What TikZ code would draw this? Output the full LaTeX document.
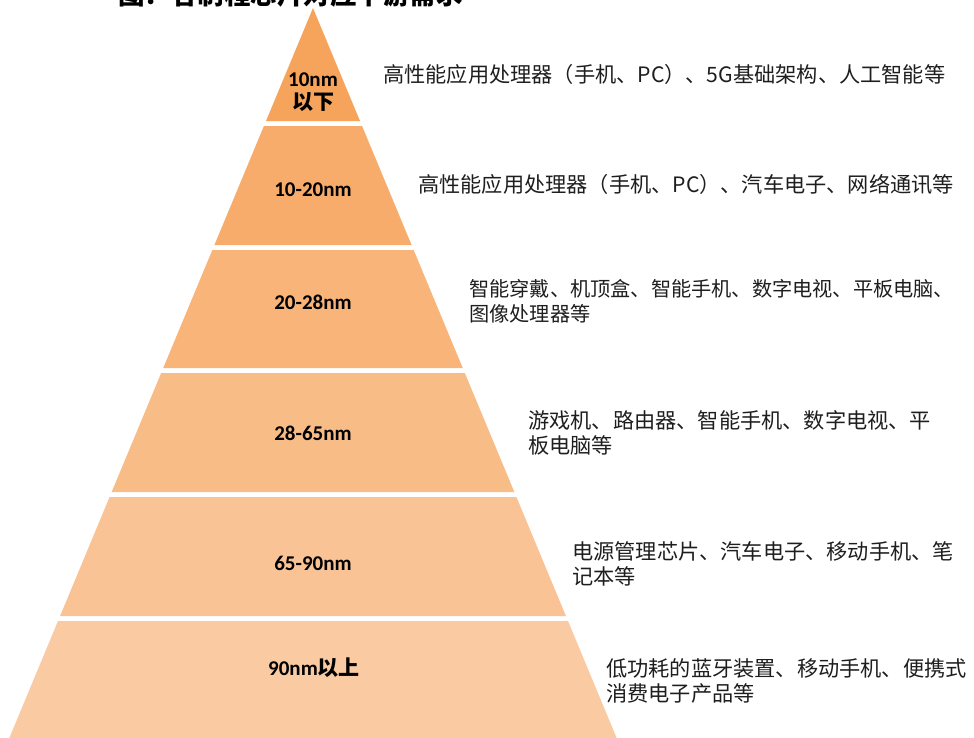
\documentclass[tikz,border=0pt]{standalone}
\usepackage{fontspec}
\newfontfamily\cjk{Noto Sans CJK SC}
\newfontfamily\labfont{Carlito}
\definecolor{bandA}{RGB}{246,163,92}
\definecolor{bandB}{RGB}{247,172,107}
\definecolor{bandC}{RGB}{248,180,121}
\definecolor{bandD}{RGB}{248,188,135}
\definecolor{bandE}{RGB}{249,195,149}
\definecolor{bandF}{RGB}{250,202,163}
\definecolor{desctext}{RGB}{30,30,30}
\tikzset{
  lvl/.style={font=\fontsize{21}{23}\selectfont\labfont\bfseries, text=black, align=center, inner sep=0pt},
  desc/.style={font=\fontsize{21.2}{25}\selectfont\cjk, text=desctext, anchor=west, align=left, inner sep=0pt},
  descnarrow/.style={desc, font=\fontsize{20.2}{25}\selectfont\cjk},
  ttl/.style={font=\fontsize{26.5}{28}\selectfont\cjk\bfseries, text=black, anchor=base west, inner sep=0pt}
}
\newcommand{\pyrband}[3]{%
  \fill[#3] ({313-0.416*(#1-8)},#1) -- ({313+0.416*(#1-8)},#1) --
    ({313+0.416*(#2-8)},#2) -- ({313-0.416*(#2-8)},#2) -- cycle;}
\begin{document}
\begin{tikzpicture}[x=1pt,y=-1pt]
\useasboundingbox (0,0) rectangle (974,737);
\clip (0,0) rectangle (974,737);
% title (cut off at the top edge, as in the reference)
\node[ttl] (title) at (118,4) {图：各制程芯片对应下游需求};
% pyramid
\fill[bandA] (313,8) -- (360,121) -- (266,121) -- cycle;
\pyrband{126}{245}{bandB}
\pyrband{250}{368}{bandC}
\pyrband{373}{492}{bandD}
\pyrband{497}{616}{bandE}
\pyrband{621}{740}{bandF}
% level labels
\node[lvl] (l1) at (313,92) {10nm\\{\cjk\bfseries 以下}};
\node[lvl] (l2) at (313,190) {10-20nm};
\node[lvl] (l3) at (313,302) {20-28nm};
\node[lvl] (l4) at (313,433) {28-65nm};
\node[lvl] (l5) at (313,563) {65-90nm};
\node[lvl] (l6) at (314,668) {90nm{\cjk\bfseries 以上}};
% descriptions
\node[desc] (d1) at (383,74) {高性能应用处理器（手机、PC）、5G基础架构、人工智能等};
\node[desc] (d2) at (418,184) {高性能应用处理器（手机、PC）、汽车电子、网络通讯等};
\node[descnarrow] (d3) at (469,301.5) {智能穿戴、机顶盒、智能手机、数字电视、平板电脑、\\图像处理器等};
\node[desc] (d4) at (528,432.5) {游戏机、路由器、智能手机、数字电视、平\\板电脑等};
\node[desc] (d5) at (572,563.5) {电源管理芯片、汽车电子、移动手机、笔\\记本等};
\node[desc] (d6) at (606,680.5) {低功耗的蓝牙装置、移动手机、便携式\\消费电子产品等};
\end{tikzpicture}
\end{document}
